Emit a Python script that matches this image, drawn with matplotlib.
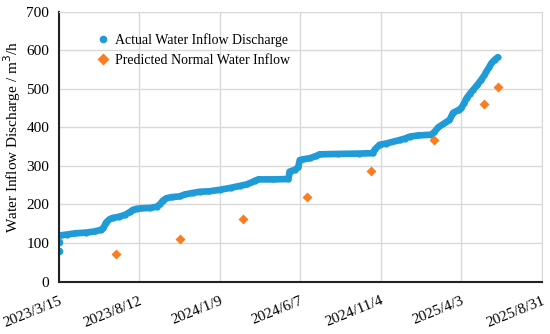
import numpy as np
import pandas as pd
import matplotlib
matplotlib.use("Agg")
import matplotlib.pyplot as plt
from matplotlib.lines import Line2D

plt.rcParams['font.family'] = ['Liberation Serif', 'DejaVu Serif']

start = pd.Timestamp("2023-03-15")

# actual inflow (days after 2023/3/15, m3/h)
actual_days = [0, 1, 4, 15, 30, 50, 67, 78, 83, 88, 94, 100, 112, 123, 132, 138,
               146, 154, 170, 182, 188, 194, 200, 210, 225, 235, 250, 263, 280,
               300, 320, 337, 350, 359, 366, 372, 400, 428, 430, 440, 446, 449,
               455, 468, 480, 486, 520, 560, 585, 589, 598, 610, 635, 645, 654,
               670, 694, 700, 707, 718, 728, 735, 745, 750, 755, 760, 766, 772,
               780, 787, 793, 797, 802, 806, 812, 818]
actual_vals = [78, 102, 120, 122, 125, 127, 130, 134, 139, 153, 161, 165, 168, 173,
               180, 186, 189, 190, 191, 194, 200, 210, 216, 219, 221, 226, 230,
               233, 234, 238, 243, 248, 252, 257, 262, 265, 265, 266, 285, 290,
               296, 315, 317, 320, 326, 330, 331, 332, 333, 343, 355, 358, 367,
               371, 376, 379, 381, 388, 400, 410, 419, 438, 445, 450, 462, 476,
               487, 497, 510, 523, 535, 545, 556, 566, 575, 582]

# predicted normal inflow
pred_days = [107, 225, 343, 463, 581, 699, 792, 819]
pred_vals = [71, 111, 161, 219, 288, 367, 460, 504]

tick_labels = ["2023/3/15", "2023/8/12", "2024/1/9", "2024/6/7",
               "2024/11/4", "2025/4/3", "2025/8/31"]

blue = '#1f9bd7'
orange = '#fb7d22'

actual_dates = start + pd.to_timedelta(actual_days, unit='D')
pred_dates = start + pd.to_timedelta(pred_days, unit='D')
tick_dates = [pd.Timestamp(t.replace('/', '-')) for t in tick_labels]

fig = plt.figure(figsize=(5.5, 3.34), dpi=100)
ax = fig.add_axes([0.107, 0.157, 0.878, 0.808])

# first two readings are isolated dots, the rest form a dense trail
ax.plot(actual_dates[:2], actual_vals[:2], 'o', color=blue, ms=5.5, mec='none')
ax.plot(actual_dates[2:], actual_vals[2:], '-o', color=blue, lw=4.8, ms=4.5,
        mec='none', solid_capstyle='round', solid_joinstyle='round')
ax.plot(pred_dates, pred_vals, 'D', color=orange, ms=5.5, mec='none')

ax.set_xlim(tick_dates[0], tick_dates[-1])
ax.set_ylim(0, 700)
ax.set_yticks(range(0, 701, 100))
ax.set_xticks(tick_dates)
ax.set_xticklabels(tick_labels, rotation=22, ha='right', rotation_mode='anchor')
ax.tick_params(length=0, labelsize=11, pad=7)
ax.tick_params(axis='x', pad=9)

ax.grid(True, color='#d9d9d9', lw=1)
ax.set_axisbelow(True)
for s in ['top', 'right']:
    ax.spines[s].set_color('#d9d9d9')
for s in ['left', 'bottom']:
    ax.spines[s].set_color('#222222')
    ax.spines[s].set_linewidth(1.5)

ax.set_ylabel('Water Inflow Discharge / m$^3$/h', fontsize=11)
ax.yaxis.set_label_coords(-0.075, 0.536)

handles = [Line2D([], [], ls='none', marker='o', color=blue, ms=5.5, mec='none'),
           Line2D([], [], ls='none', marker='D', color=orange, ms=6, mec='none')]
ax.legend(handles, ['Actual Water Inflow Discharge', 'Predicted Normal Water Inflow'],
          loc='upper left', bbox_to_anchor=(0.052, 0.968), frameon=False,
          fontsize=10, handletextpad=0.3, handlelength=1.0, labelspacing=0.5)

fig.savefig('out.png', dpi=100)
